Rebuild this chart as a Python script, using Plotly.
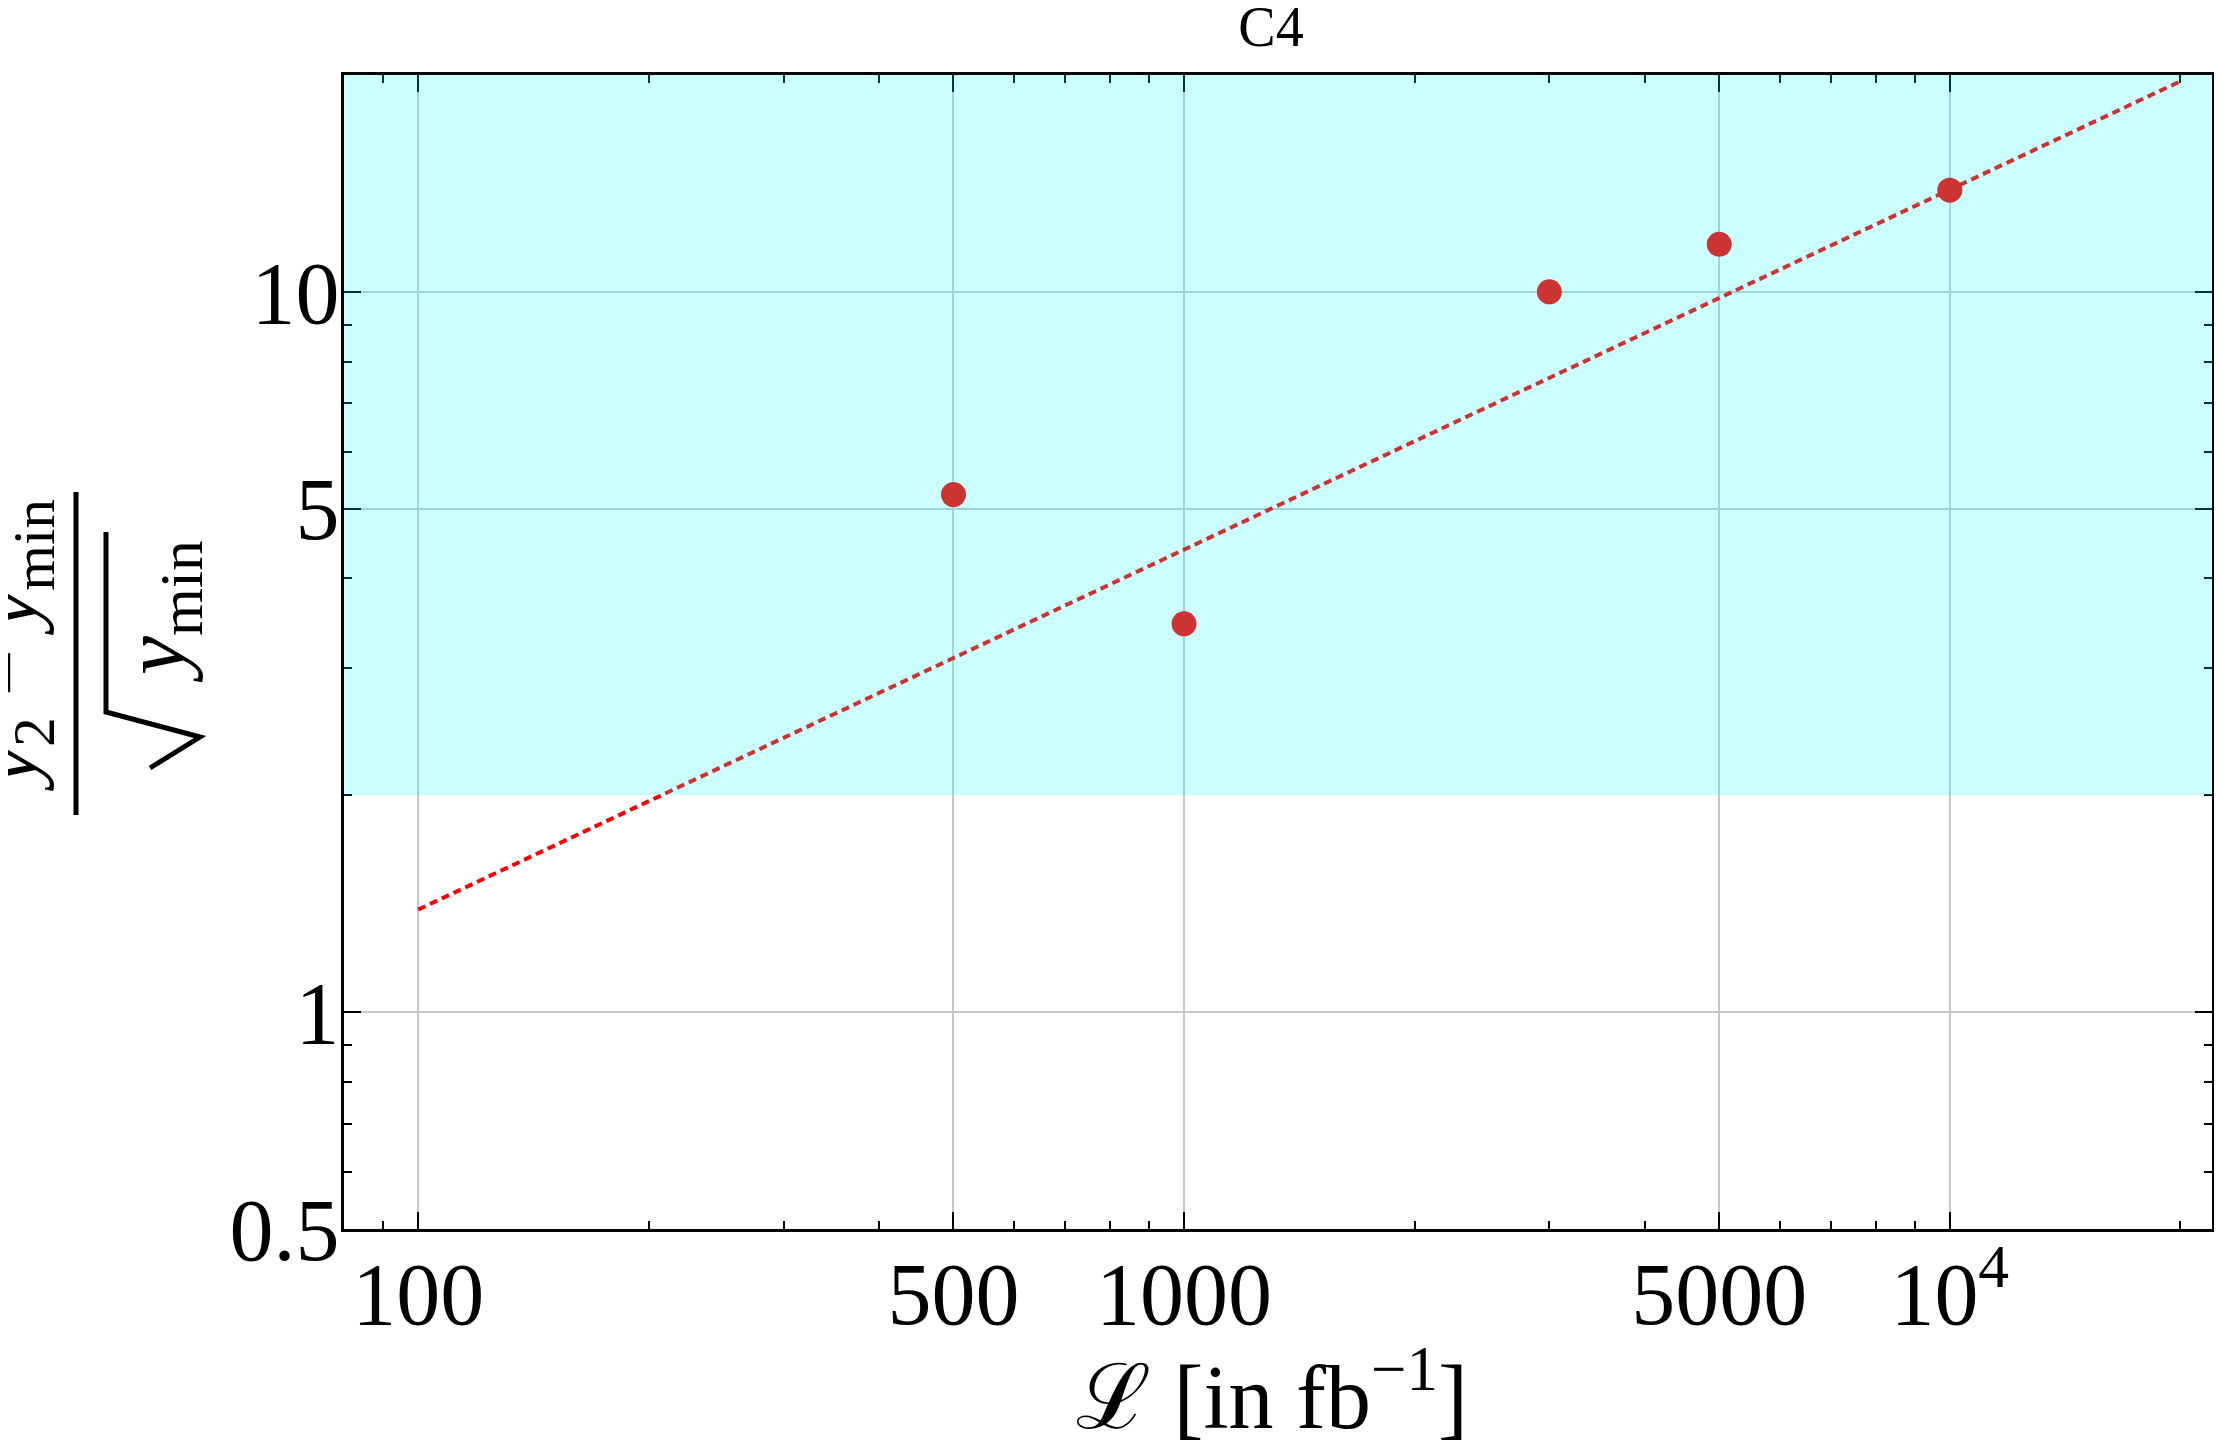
import numpy as np
import plotly.graph_objects as go

# Data
lumi = [500, 1000, 3000, 5000, 10000]          # L in fb^-1
signif = [5.23, 3.46, 10.0, 11.64, 13.84]       # (y2 - ymin)/sqrt(ymin)

fit_lumi = [100, 20000]
fit_signif = [1.388, 19.6]

band_low = 2.0
band_high = 20.0

x_tickvals = [100, 500, 1000, 5000, 10000]
x_ticktext = ["100", "500", "1000", "5000", "10<sup>4</sup>"]
x_minor = [90, 200, 300, 400, 600, 700, 800, 900, 2000, 3000, 4000,
           6000, 7000, 8000, 9000, 20000]
y_tickvals = [0.5, 1, 5, 10]
y_ticktext = ["0.5", "1", "5", "10"]
y_minor = [0.6, 0.7, 0.8, 0.9, 2, 3, 4, 6, 7, 8, 9, 20]

# figure geometry (pixels); the page body adds an 8px margin
OFF = 8
W, H = 2222 - OFF, 1452 - OFF
ML, MR, MT, MB = 344 - OFF, 10, 75 - OFF, 223
PW, PH = W - ML - MR, H - MT - MB

FONT = "Liberation Serif"


def px(x):
    # screen pixel -> paper x
    return (x - OFF - ML) / PW


def py(y):
    # screen pixel -> paper y
    return (H - MB - (y - OFF)) / PH


fig = go.Figure()

fig.add_trace(go.Scatter(x=fit_lumi, y=fit_signif, mode="lines",
                         line=dict(color="red", width=4, dash="8px,5px"),
                         showlegend=False))
fig.add_trace(go.Scatter(x=lumi, y=signif, mode="markers",
                         marker=dict(color="red", size=25),
                         showlegend=False))

# shaded region (drawn over the data, like the original)
fig.add_shape(type="rect", xref="x domain", x0=0, x1=1, yref="y",
              y0=band_low, y1=band_high, fillcolor="cyan", opacity=0.2,
              line=dict(width=0), layer="above")

# y axis title as a built fraction
fig.add_annotation(xref="paper", yref="paper", x=px(14), y=py(646),
                   text="<i>y</i><sub>2</sub> − <i>y</i><sub>min</sub>",
                   textangle=-90, showarrow=False, borderpad=0,
                   xanchor="center", yanchor="middle",
                   font=dict(family=FONT, size=84, color="black"))
fig.add_shape(type="line", xref="paper", yref="paper",
              x0=px(76), x1=px(76), y0=py(492), y1=py(815),
              line=dict(color="black", width=5))
rad = [(150, 768), (200, 737), (106, 712), (106, 532)]
path = "M " + " L ".join(f"{px(a):.5f},{py(b):.5f}" for a, b in rad)
fig.add_shape(type="path", xref="paper", yref="paper", path=path,
              line=dict(color="black", width=5))
fig.add_annotation(xref="paper", yref="paper", x=px(160), y=py(612),
                   text="<i>y</i><sub>min</sub>",
                   textangle=-90, showarrow=False, borderpad=0,
                   xanchor="center", yanchor="middle",
                   font=dict(family=FONT, size=88, color="black"))

# x axis title
fig.add_annotation(xref="paper", yref="paper", x=px(1272), y=py(1390),
                   text="ℒ [in fb<sup>−1</sup>]", showarrow=False, borderpad=0,
                   xanchor="center", yanchor="middle",
                   font=dict(family=FONT, size=90, color="black"))

axis_common = dict(showline=True, linecolor="black", linewidth=3,
                   mirror="allticks", ticks="inside", ticklen=17,
                   tickwidth=2, tickcolor="black",
                   showgrid=True, gridcolor="#c8c8c8", gridwidth=2,
                   zeroline=False, tickfont=dict(family=FONT, size=88, color="black"))

fig.update_xaxes(type="log", range=[np.log10(80), np.log10(22000)],
                 tickmode="array", tickvals=x_tickvals, ticktext=x_ticktext,
                 minor=dict(tickmode="array", tickvals=x_minor, ticks="inside",
                            ticklen=8, tickwidth=2, tickcolor="black", showgrid=False),
                 ticklabelstandoff=-14, **axis_common)
fig.update_yaxes(type="log", range=[np.log10(0.5), np.log10(20)],
                 tickmode="array", tickvals=y_tickvals, ticktext=y_ticktext,
                 minor=dict(tickmode="array", tickvals=y_minor, ticks="inside",
                            ticklen=8, tickwidth=2, tickcolor="black", showgrid=False),
                 ticklabelstandoff=-16, **axis_common)

fig.update_layout(width=W, height=H,
                  margin=dict(l=ML, r=MR, t=MT, b=MB, autoexpand=False),
                  paper_bgcolor="white", plot_bgcolor="white",
                  title=dict(text="C4", xref="container", x=(1271 - OFF) / W,
                             xanchor="center", y=1 - (26 - OFF) / H, yanchor="middle",
                             font=dict(family=FONT, size=56, color="black")))

fig.write_html("out.html")
